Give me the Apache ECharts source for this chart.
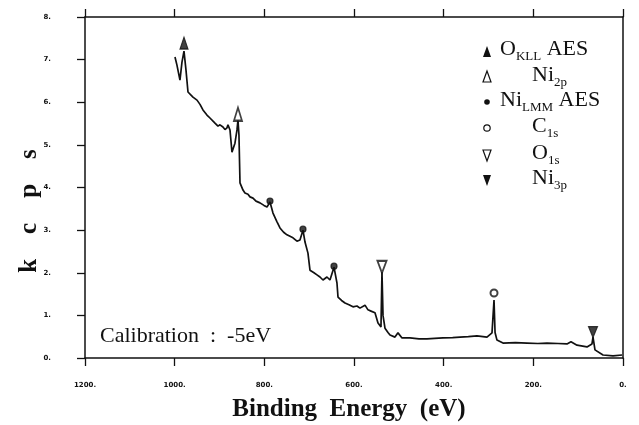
<!DOCTYPE html>
<html>
<head>
<meta charset="utf-8">
<script src="https://cdn.jsdelivr.net/npm/echarts@6/dist/echarts.min.js"></script>
<style>
  html, body { margin: 0; padding: 0; background: #fff; }
  #chart { width: 639px; height: 425px; }
</style>
</head>
<body>
<div id="chart"></div>
<script>
// XPS survey spectrum of Ni oxide surface (binding energy in eV vs. kcps)
var bindingEnergy = [
  999.3, 994.9, 988.2, 983.7, 979.2, 974.8, 970.3, 959.2, 950.2, 943.5,
  936.9, 928.0, 921.3, 910.1, 903.4, 898.9, 892.3, 887.8, 883.3, 881.1,
  876.6, 872.2, 865.5, 861.0, 858.8, 856.6, 854.3, 847.6, 843.2, 836.5,
  832.0, 825.3, 818.6, 809.7, 800.8, 794.1, 787.4, 780.7, 772.0, 765.1,
  757.0, 749.5, 736.1, 727.2, 720.5, 713.8, 709.3, 702.7, 698.2, 689.3,
  682.6, 675.9, 669.2, 660.3, 653.6, 644.6, 638.0, 635.7, 627.8, 620.1,
  611.2, 602.3, 593.4, 586.7, 575.5, 568.8, 562.1, 553.2, 546.5, 539.8,
  537.6, 535.3, 530.9, 524.2, 519.7, 508.6, 501.9, 492.9, 475.1, 455.0,
  437.2, 420.0, 401.5, 380.0, 363.6, 345.0, 325.7, 303.4, 292.2, 287.7,
  285.4, 281.1, 267.7, 240.0, 214.1, 190.0, 169.5, 145.0, 124.9, 116.0,
  102.6, 80.3, 69.2, 66.9, 62.5, 44.6, 22.3, 2.2
];
var countRate = [
  7.06, 6.87, 6.52, 6.94, 7.20, 6.76, 6.24, 6.12, 6.05, 5.95,
  5.82, 5.70, 5.63, 5.51, 5.44, 5.47, 5.42, 5.36, 5.40, 5.47,
  5.35, 4.83, 5.04, 5.35, 5.58, 5.23, 4.11, 3.94, 3.87, 3.84,
  3.78, 3.75, 3.68, 3.64, 3.58, 3.54, 3.66, 3.40, 3.20, 3.05,
  2.95, 2.89, 2.82, 2.74, 2.77, 3.00, 2.72, 2.46, 2.06, 2.00,
  1.95, 1.90, 1.83, 1.90, 1.83, 2.13, 1.76, 1.43, 1.35, 1.29,
  1.25, 1.20, 1.22, 1.17, 1.24, 1.13, 1.10, 1.06, 0.82, 0.73,
  2.02, 1.00, 0.70, 0.60, 0.54, 0.49, 0.59, 0.47, 0.47, 0.45,
  0.45, 0.46, 0.47, 0.48, 0.49, 0.50, 0.52, 0.49, 0.59, 1.36,
  0.60, 0.42, 0.35, 0.36, 0.35, 0.34, 0.35, 0.34, 0.33, 0.38,
  0.30, 0.26, 0.33, 0.49, 0.19, 0.07, 0.05, 0.07
];

// Peak assignments: [binding energy, peak kcps]
var okllPeak  = [[979.2, 7.20]];
var ni2pPeak  = [[858.8, 5.58]];
var nilmmPeaks = [[787.4, 3.66], [713.8, 3.00], [644.6, 2.13]];
var c1sPeak   = [[287.7, 1.36]];
var o1sPeak   = [[537.6, 2.02]];
var ni3pPeak  = [[66.9, 0.49]];

var xTicks = [0, 200, 400, 600, 800, 1000, 1200];
var yTicks = [0, 1, 2, 3, 4, 5, 6, 7, 8];

var serif = '"Liberation Serif", "DejaVu Serif", serif';
var ink = '#111';

var spectrum = bindingEnergy.map(function (e, i) { return [e, countRate[i]]; });

function peakSeries(data, symbol, size, rotate, offsetY) {
  return {
    type: 'scatter',
    data: data,
    symbol: symbol,
    symbolSize: size,
    symbolRotate: rotate,
    symbolOffset: [0, offsetY],
    itemStyle: { color: ink, borderColor: ink, borderWidth: 1.2 },
    z: 5,
    silent: true
  };
}

var axisCommon = {
  type: 'value',
  axisLine: { show: true, onZero: false, lineStyle: { color: ink, width: 1.5 } },
  axisTick: { show: true, inside: false, length: 8, lineStyle: { color: ink, width: 1.3 } },
  splitLine: { show: false }
};

var legendRows = [
  { y: 51, x: 500, text: '{m|O}{s|KLL}{m| AES}' },
  { y: 77, x: 532, text: '{m|Ni}{s|2p}' },
  { y: 102, x: 500, text: '{m|Ni}{s|LMM}{m| AES}' },
  { y: 128, x: 532, text: '{m|C}{s|1s}' },
  { y: 155, x: 532, text: '{m|O}{s|1s}' },
  { y: 180, x: 532, text: '{m|Ni}{s|3p}' }
];

var legendGraphics = legendRows.map(function (r) {
  return {
    type: 'text',
    left: r.x,
    top: r.y - 13,
    style: {
      text: r.text,
      fill: ink,
      rich: {
        m: { fontFamily: serif, fontSize: 22, fill: ink, lineHeight: 25, verticalAlign: 'bottom' },
        s: { fontFamily: serif, fontSize: 13, fill: ink, lineHeight: 25, verticalAlign: 'bottom', padding: [0, 0, -3, 0] }
      }
    }
  };
});

var mx = 487;
legendGraphics.push(
  { type: 'polygon', shape: { points: [[mx, 46], [mx - 4, 57], [mx + 4, 57]] }, style: { fill: ink } },
  { type: 'polygon', shape: { points: [[mx, 71], [mx - 4, 82], [mx + 4, 82]] }, style: { fill: '#fff', stroke: ink, lineWidth: 1.2 } },
  { type: 'circle', shape: { cx: mx, cy: 102, r: 2.8 }, style: { fill: ink } },
  { type: 'circle', shape: { cx: mx, cy: 128, r: 3.2 }, style: { fill: '#fff', stroke: ink, lineWidth: 1.2 } },
  { type: 'polygon', shape: { points: [[mx - 4, 150], [mx + 4, 150], [mx, 161]] }, style: { fill: '#fff', stroke: ink, lineWidth: 1.2 } },
  { type: 'polygon', shape: { points: [[mx - 4, 175], [mx + 4, 175], [mx, 186]] }, style: { fill: ink } },
  {
    type: 'text', left: 100, top: 325,
    style: { text: 'Calibration  :  -5eV', fontFamily: serif, fontSize: 22, fill: ink }
  },
  {
    type: 'text', x: 30, y: 211, rotation: Math.PI / 2,
    style: {
      text: 'k    c    p    s', fontFamily: serif, fontSize: 25, fontWeight: 'bold', fill: ink,
      align: 'center', verticalAlign: 'middle'
    }
  },
  {
    type: 'text', x: 349, y: 410,
    style: {
      text: 'Binding  Energy  (eV)', fontFamily: serif, fontSize: 25, fontWeight: 'bold', fill: ink,
      align: 'center', verticalAlign: 'middle'
    }
  }
);

var chart = echarts.init(document.getElementById('chart'), null, { renderer: 'canvas' });
chart.setOption({
  animation: false,
  backgroundColor: '#fff',
  grid: { left: 85, right: 16, top: 17, bottom: 67 },
  xAxis: [
    Object.assign({}, axisCommon, {
      position: 'bottom',
      min: xTicks[0], max: xTicks[xTicks.length - 1], interval: 200,
      inverse: true,
      axisLabel: {
        show: true, margin: 24, fontSize: 7, fontWeight: 'bold', color: ink,
        fontFamily: '"DejaVu Sans", sans-serif',
        formatter: function (v) { return v + '.'; }
      }
    }),
    Object.assign({}, axisCommon, {
      position: 'top',
      min: xTicks[0], max: xTicks[xTicks.length - 1], interval: 200,
      inverse: true,
      axisLabel: { show: false }
    })
  ],
  yAxis: [
    Object.assign({}, axisCommon, {
      position: 'left',
      min: yTicks[0], max: yTicks[yTicks.length - 1], interval: 1,
      axisLabel: {
        show: true, margin: 34, fontSize: 7, fontWeight: 'bold', color: ink,
        fontFamily: '"DejaVu Sans", sans-serif',
        formatter: function (v) { return v + '.'; }
      }
    }),
    Object.assign({}, axisCommon, {
      position: 'right',
      min: yTicks[0], max: yTicks[yTicks.length - 1], interval: 1,
      axisTick: { show: false },
      axisLabel: { show: false }
    })
  ],
  series: [
    {
      type: 'line',
      data: spectrum,
      showSymbol: false,
      symbol: 'none',
      lineStyle: { color: ink, width: 1.7 },
      silent: true
    },
    peakSeries(okllPeak, 'triangle', [8, 12], 0, -8),
    peakSeries(ni2pPeak, 'emptyTriangle', [8, 13], 0, -6),
    peakSeries(nilmmPeaks, 'circle', 6, 0, -1),
    peakSeries(c1sPeak, 'emptyCircle', 7, 0, -7),
    peakSeries(o1sPeak, 'emptyTriangle', [9, 12], 180, -5),
    peakSeries(ni3pPeak, 'triangle', [9, 11], 180, -5)
  ],
  graphic: legendGraphics
});
</script>
</body>
</html>
